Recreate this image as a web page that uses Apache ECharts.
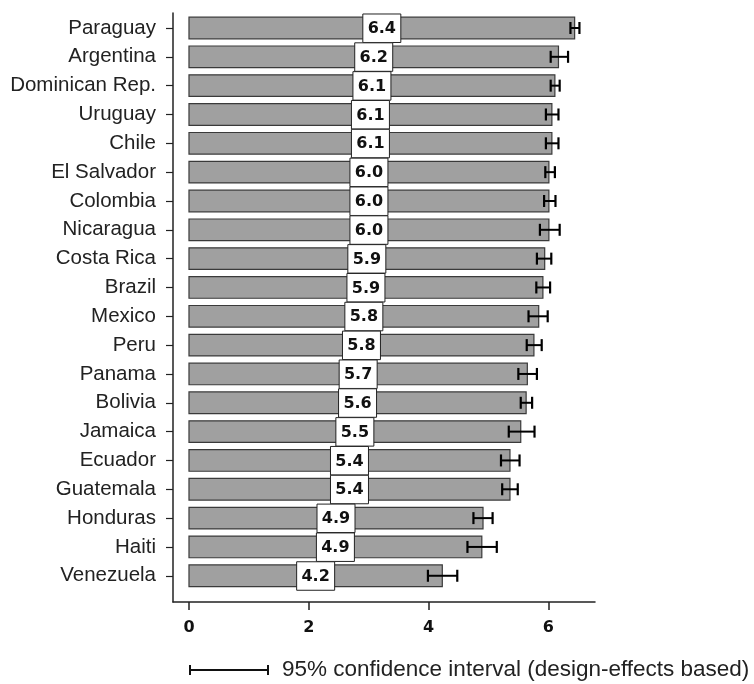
<!DOCTYPE html>
<html><head><meta charset="utf-8">
<script src="https://cdn.jsdelivr.net/npm/echarts@6/dist/echarts.min.js"></script>
<style>html,body{margin:0;padding:0;background:#fff}#c{width:754px;height:684px}</style>
</head><body><div id="c"></div>
<script>
const countries = ['Paraguay','Argentina','Dominican Rep.','Uruguay','Chile','El Salvador','Colombia','Nicaragua','Costa Rica','Brazil','Mexico','Peru','Panama','Bolivia','Jamaica','Ecuador','Guatemala','Honduras','Haiti','Venezuela'];
const values = [6.44,6.17,6.11,6.06,6.06,6.01,6.01,6.01,5.94,5.91,5.84,5.76,5.65,5.63,5.54,5.36,5.36,4.91,4.89,4.23];
const ciLow  = [6.37,6.04,6.04,5.96,5.96,5.95,5.93,5.86,5.81,5.80,5.67,5.64,5.50,5.54,5.34,5.21,5.23,4.75,4.65,3.99];
const ciHigh = [6.52,6.33,6.19,6.17,6.17,6.11,6.12,6.19,6.05,6.03,5.99,5.89,5.81,5.73,5.77,5.52,5.49,5.07,5.14,4.48];
const valueLabels = ['6.4','6.2','6.1','6.1','6.1','6.0','6.0','6.0','5.9','5.9','5.8','5.8','5.7','5.6','5.5','5.4','5.4','4.9','4.9','4.2'];
const xTicks = [0,2,4,6];
const legendText = '95% confidence interval (design-effects based)';

const chart = echarts.init(document.getElementById('c'), null, {renderer:'canvas'});
const data = values.map((v,i)=>[v, i, ciLow[i], ciHigh[i]]);
const yIdx = countries.map((_,i)=>i);

chart.setOption({
  animation:false,
  backgroundColor:'#fff',
  grid:{left:173, right:159, top:13, bottom:82, containLabel:false},
  xAxis:{
    type:'value', min:-0.267, max:6.78,
    axisLine:{show:true, onZero:false, lineStyle:{color:'#222', width:1.5}},
    axisTick:{show:true, customValues:xTicks, length:8, lineStyle:{color:'#222', width:1.5}},
    axisLabel:{customValues:xTicks, margin:18, color:'#111', fontFamily:'DejaVu Sans', fontWeight:'bold', fontSize:16},
    splitLine:{show:false}
  },
  yAxis:{
    type:'value', inverse:true, min:-0.52, max:19.91,
    axisLine:{show:true, onZero:false, lineStyle:{color:'#222', width:1.5}},
    axisTick:{show:true, customValues:yIdx, length:7, lineStyle:{color:'#222', width:1.2}},
    axisLabel:{customValues:yIdx, formatter:v=>countries[Math.round(v)], margin:17, color:'#222', fontFamily:'Liberation Sans', fontSize:20.5},
    splitLine:{show:false}
  },
  series:[{
    type:'custom',
    data:data,
    encode:{x:0, y:1},
    renderItem:function(params, api){
      const v = api.value(0), i = api.value(1), lo = api.value(2), hi = api.value(3);
      const p0 = api.coord([0, i]), p1 = api.coord([v, i]);
      const h = api.size([0, 0.75])[1];
      const pl = api.coord([lo, i]), ph = api.coord([hi, i]);
      const pm = api.coord([v/2, i]);
      const cap = 12;
      return {type:'group', children:[
        {type:'rect', shape:{x:p0[0], y:p0[1]-h/2, width:p1[0]-p0[0], height:h}, style:{fill:'#a0a0a0', stroke:'#3a3a3a', lineWidth:1.2}},
        {type:'line', shape:{x1:pl[0], y1:pl[1], x2:ph[0], y2:ph[1]}, style:{stroke:'#000', lineWidth:2}},
        {type:'line', shape:{x1:pl[0], y1:pl[1]-cap/2, x2:pl[0], y2:pl[1]+cap/2}, style:{stroke:'#000', lineWidth:2.2}},
        {type:'line', shape:{x1:ph[0], y1:ph[1]-cap/2, x2:ph[0], y2:ph[1]+cap/2}, style:{stroke:'#000', lineWidth:2.2}},
        {type:'rect', shape:{x:pm[0]-19, y:pm[1]-14, width:38, height:28.5}, style:{fill:'#fff', stroke:'#222', lineWidth:1}},
        {type:'text', style:{text:valueLabels[i], x:pm[0], y:pm[1]+1, align:'center', verticalAlign:'middle', font:'bold 16px "DejaVu Sans"', fill:'#111'}}
      ]};
    }
  }],
  graphic:[
    {type:'line', silent:true, shape:{x1:190, y1:670, x2:268, y2:670}, style:{stroke:'#111', lineWidth:2}},
    {type:'line', silent:true, shape:{x1:190, y1:665, x2:190, y2:675}, style:{stroke:'#111', lineWidth:2}},
    {type:'line', silent:true, shape:{x1:268, y1:665, x2:268, y2:675}, style:{stroke:'#111', lineWidth:2}},
    {type:'text', silent:true, style:{text:legendText, x:282, y:670, align:'left', verticalAlign:'middle', font:'22.5px "Liberation Sans"', fill:'#222'}}
  ]
});
</script>
</body></html>
